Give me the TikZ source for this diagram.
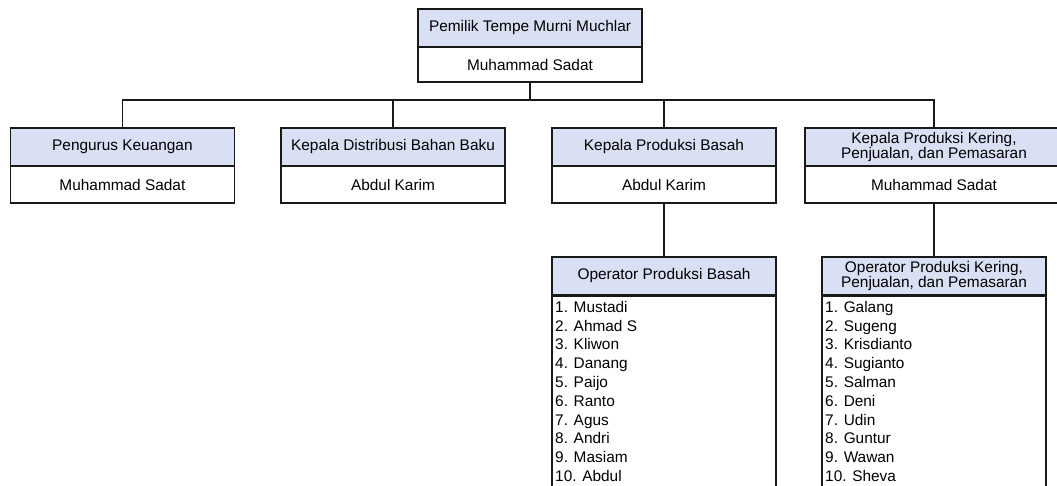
\documentclass[tikz,border=0pt]{standalone}
\usepackage{fontspec}
\setmainfont{Liberation Sans}
\definecolor{hdrblue}{RGB}{218,224,243}
\newcommand{\fsmain}{\fontsize{15.4}{15}\selectfont}
\newcommand{\fslist}{\fontsize{15.4}{18.8}\selectfont}
\begin{document}
\begin{tikzpicture}[x=1pt,y=-1pt,
  hdr/.style={draw=black!90, line width=1.6pt, fill=hdrblue, minimum width=224pt, minimum height=38pt, inner sep=0pt, align=center, font=\fsmain},
  bdy/.style={draw=black!90, line width=1.6pt, fill=white, minimum width=224pt, minimum height=37pt, inner sep=0pt, align=center, font=\fsmain},
  conn/.style={line width=1.1pt, black!90}]
\useasboundingbox (0,0) rectangle (1057,486);
\clip (0,0) rectangle (1057,486);
% top
\node[hdr] (t1) at (530,28) {Pemilik Tempe Murni Muchlar};
\node[bdy, minimum height=35pt] (t2) at (530,64.5) {Muhammad Sadat};
% level 2
\node[hdr] (a1) at (122.4,147) {Pengurus Keuangan};
\node[bdy] (a2) at (122.4,184.5) {Muhammad Sadat};
\node[hdr] (b1) at (393,147) {Kepala Distribusi Bahan Baku};
\node[bdy] (b2) at (393,184.5) {Abdul Karim};
\node[hdr] (c1) at (664,147) {Kepala Produksi Basah};
\node[bdy] (c2) at (664,184.5) {Abdul Karim};
\node[hdr, minimum width=258pt] (d1) at (934,147) {Kepala Produksi Kering,\\Penjualan, dan Pemasaran};
\node[bdy, minimum width=258pt] (d2) at (934,184.5) {Muhammad Sadat};
% level 3
\node[hdr] (e1) at (664,276) {Operator Produksi Basah};
\node[bdy, anchor=north, minimum height=220pt] (e2) at (664,295) {};
\node[anchor=north west, inner sep=0pt, align=left, font=\fslist] (e3) at (555,301)
  {1. Mustadi\\2. Ahmad S\\3. Kliwon\\4. Danang\\5. Paijo\\6. Ranto\\7. Agus\\8. Andri\\9. Masiam\\10. Abdul};
\node[hdr] (f1) at (934,276) {Operator Produksi Kering,\\Penjualan, dan Pemasaran};
\node[bdy, anchor=north, minimum height=220pt] (f2) at (934,295) {};
\node[anchor=north west, inner sep=0pt, align=left, font=\fslist] (f3) at (825,301)
  {1. Galang\\2. Sugeng\\3. Krisdianto\\4. Sugianto\\5. Salman\\6. Deni\\7. Udin\\8. Guntur\\9. Wawan\\10. Sheva};
% connectors
\coordinate (bus) at (530,100);
\draw[conn] (t2.south) -- (bus);
\draw[conn] (a1.north) |- (bus) -| (d1.north);
\draw[conn] (b1.north) -- (b1.north |- bus);
\draw[conn] (c1.north) -- (c1.north |- bus);
\draw[conn] (c2.south) -- (e1.north);
\draw[conn] (d2.south) -- (f1.north);
\end{tikzpicture}
\end{document}
